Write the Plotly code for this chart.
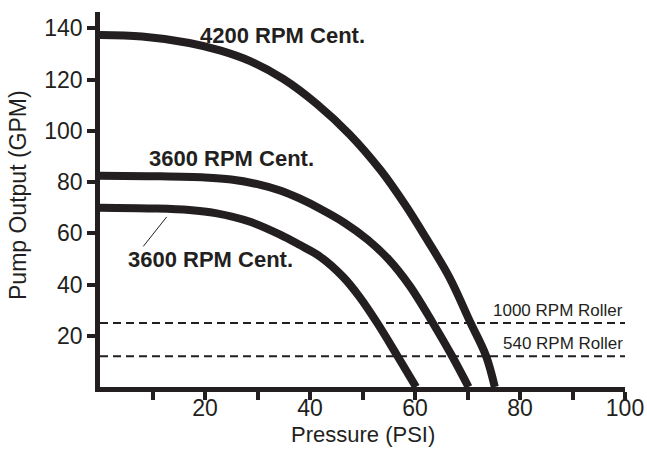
import plotly.graph_objects as go

# Data
pressure_4200 = [0, 8, 17, 23, 28.6, 34.9, 41.3, 47.6, 53.5, 58, 62, 66.5, 70.6, 73.5, 75.2]
gpm_4200 = [137.4, 136.8, 134.3, 131.3, 127.2, 120.3, 110.5, 98.5, 84.5, 71.5, 58.5, 43, 25, 12.3, 0]

pressure_3600a = [0, 10, 20, 25, 30, 34.3, 38, 42, 46.5, 51, 55, 59, 63.4, 67.0, 70.2]
gpm_3600a = [82.5, 82.3, 81.8, 81, 79.2, 76.7, 73.6, 69.5, 64.2, 57.5, 49.8, 39.5, 25, 12.3, 0]

pressure_3600b = [0, 10, 17, 22, 28.6, 34.3, 38, 42, 46.3, 49.5, 52.8, 56.6, 60.2]
gpm_3600b = [70, 69.7, 69.1, 67.9, 64.5, 59.5, 55.5, 50.8, 43, 35, 25, 12.3, 0]

roller_names = ["1000 RPM Roller", "540 RPM Roller"]
roller_gpm = [25, 12]

curve_labels = ["4200 RPM Cent.", "3600 RPM Cent.", "3600 RPM Cent."]
curve_label_x = [34.7, 25.1, 21.0]
curve_label_y = [137.4, 89.3, 49.8]

x_tickvals = [10, 20, 30, 40, 50, 60, 70, 80, 90, 100]
x_ticktext = ["", "20", "", "40", "", "60", "", "80", "", "100"]
y_tickvals = [20, 40, 60, 80, 100, 120, 140]

INK = "#231f20"
FONT = "Liberation Sans, Arial, Helvetica, sans-serif"

fig = go.Figure()

for name, g in zip(roller_names, roller_gpm):
    fig.add_trace(go.Scatter(
        x=[0, 100], y=[g, g], mode="lines",
        line=dict(color=INK, width=2, dash="8px,5px"),
        hoverinfo="skip", showlegend=False))

for xs, ys in [(pressure_4200, gpm_4200), (pressure_3600a, gpm_3600a), (pressure_3600b, gpm_3600b)]:
    fig.add_trace(go.Scatter(
        x=xs, y=ys, mode="lines",
        line=dict(color=INK, width=8, shape="spline", smoothing=1),
        hoverinfo="skip", showlegend=False))

annotations = []
for t, lx, ly in zip(curve_labels, curve_label_x, curve_label_y):
    annotations.append(dict(x=lx, y=ly, xref="x", yref="y", text="<b>" + t + "</b>",
                            xanchor="center", yanchor="middle", font=dict(size=22)))
for name, g in zip(roller_names, roller_gpm):
    annotations.append(dict(x=100, y=g, xref="x", yref="y", text=name, xanchor="right",
                            yanchor="bottom", yshift=1, font=dict(size=17)))
# axis titles
annotations.append(dict(x=0, y=0.512, xref="paper", yref="paper", xshift=-82,
                        text="Pump Output (GPM)", textangle=-90,
                        xanchor="center", yanchor="middle", font=dict(size=23)))
annotations.append(dict(x=0.5, y=0, xref="paper", yref="paper", yshift=-61,
                        text="Pressure (PSI)", xanchor="center", yanchor="bottom",
                        borderpad=0, font=dict(size=22)))
for a in annotations:
    a["showarrow"] = False
    a["font"].update(family=FONT, color=INK)

fig.update_layout(
    width=647, height=449,
    margin=dict(l=100, r=22, t=12, b=62, autoexpand=False),
    paper_bgcolor="white", plot_bgcolor="white",
    font=dict(family=FONT, color=INK, size=23),
    annotations=annotations,
    shapes=[dict(type="line", xref="x", yref="y", x0=12.7, y0=66.4, x1=8.25, y1=54.9,
                 line=dict(color=INK, width=1))],
    hovermode=False,
)
fig.update_xaxes(
    range=[0, 100], showgrid=False, zeroline=False, automargin=False,
    showline=True, linewidth=4.5, linecolor=INK,
    ticks="outside", ticklen=8, tickwidth=3.5, tickcolor=INK,
    tickvals=x_tickvals, ticktext=x_ticktext, ticklabelstandoff=-11,
    tickfont=dict(size=23, family=FONT, color=INK),
)
fig.update_yaxes(
    range=[0, 146.4], showgrid=False, zeroline=False, automargin=False,
    showline=True, linewidth=4.5, linecolor=INK,
    ticks="outside", ticklen=8, tickwidth=3.5, tickcolor=INK,
    tickvals=y_tickvals,
    tickfont=dict(size=23, family=FONT, color=INK),
)

fig.write_html("out.html", config={"displayModeBar": False},
               post_script="document.body.style.margin='0';document.body.style.overflow='hidden';")
